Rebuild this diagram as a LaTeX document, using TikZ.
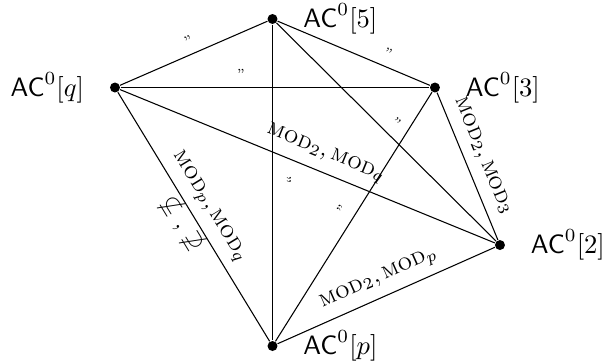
\documentclass[tikz,border=0pt]{standalone}
\usepackage{amssymb}
\usetikzlibrary{positioning}

\begin{document}
\begin{tikzpicture}[
    vert/.style={circle,fill=black,inner sep=0pt,minimum size=3.75pt},
    ditto/.style={sloped,above,font=\tiny},
    modlbl/.style={sloped,above,font=\fontsize{8.7pt}{10pt}\selectfont}
]

\useasboundingbox (0,0) rectangle (7.966,4.756);

\node[vert] (v5) at (3.600,4.505) {};
\node[vert] (v3) at (5.746,3.600) {};
\node[vert] (v2) at (6.605,1.519) {};
\node[vert] (vp) at (3.600,0.185) {};
\node[vert] (vq) at (1.519,3.600) {};

\node[right=6pt of v5] (l5) {$\mathsf{AC}^0[5]$};
\node[right=6pt of v3] (l3) {$\mathsf{AC}^0[3]$};
\node[right=6pt of v2] (l2) {$\mathsf{AC}^0[2]$};
\node[right=6pt of vp] (lp) {$\mathsf{AC}^0[p]$};
\node[left=6pt of vq] (lq) {$\mathsf{AC}^0[q]$};

\draw (vq) -- (v5) node[ditto,pos=0.5] (d1) {''};
\draw (vq) -- (v3) node[ditto,pos=0.39] (d2) {''};
\draw (v5) -- (v3) node[ditto,pos=0.69] (d3) {''};
\draw (v5) -- (vp) node[ditto,pos=0.49] (d4) {''};
\draw (v3) -- (vp) node[ditto,pos=0.5] (d5) {''};
\draw (v5) -- (v2) node[ditto,pos=0.5] (d6) {''};

\draw (v3) -- (v2) node[modlbl,pos=0.48] (m1) {$\textsc{mod}_2, \textsc{mod}_3$};
\draw (vq) -- (v2) node[modlbl,pos=0.53] (m2) {$\textsc{mod}_2, \textsc{mod}_q$};
\draw (vp) -- (v2) node[modlbl,pos=0.5] (m3) {$\textsc{mod}_2, \textsc{mod}_p$};
\draw (vq) -- (vp) node[modlbl,pos=0.5] (m4) {$\textsc{mod}_p, \textsc{mod}_q$}
                   node[sloped,below=-1pt,inner sep=1pt,pos=0.5,font=\small] (m5) {$\nsubseteq$ , $\nsupseteq$};

\end{tikzpicture}
\end{document}
